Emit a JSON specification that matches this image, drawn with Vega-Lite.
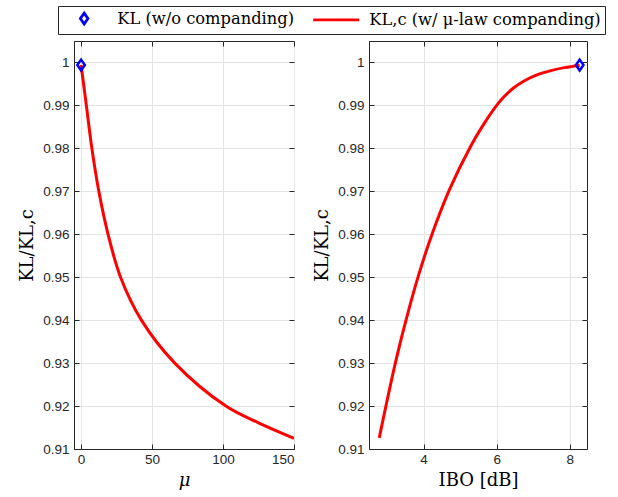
{
  "$schema": "https://vega.github.io/schema/vega-lite/v6.json",
  "padding": {"left": 18, "top": 5, "right": 5, "bottom": 2},
  "background": "white",
  "config": {
    "view": {"stroke": "#262626", "strokeWidth": 1},
    "axis": {
      "labelFont": "Liberation Sans", "labelFontSize": 13.5, "labelColor": "#262626",
      "tickColor": "#262626", "domainColor": "#262626", "gridColor": "#e3e3e3", "gridOpacity": 1,
      "titleFont": "DejaVu Serif", "titleFontSize": 18, "titleColor": "#000000", "titleFontWeight": "normal",
      "tickSize": -5, "labelPadding": 8
    },
    "legend": {
      "orient": "none", "legendX": -16, "legendY": -35, "direction": "horizontal",
      "fillColor": "white", "strokeColor": "#262626", "padding": 4,
      "labelFont": "DejaVu Serif", "labelFontSize": 16.3, "labelColor": "#000000", "labelLimit": 400,
      "symbolStrokeWidth": 2.8, "symbolSize": 70, "symbolOffset": 14, "labelOffset": 25, "columnPadding": 12,
      "title": null
    }
  },
  "datasets": {
    "left": [
      {"mu": 0, "k": 0.9994},
      {"mu": 3.7, "k": 0.990},
      {"mu": 7.6, "k": 0.980},
      {"mu": 12.5, "k": 0.970},
      {"mu": 19.0, "k": 0.960},
      {"mu": 27.8, "k": 0.950},
      {"mu": 42.5, "k": 0.940},
      {"mu": 66, "k": 0.930},
      {"mu": 102, "k": 0.920},
      {"mu": 125, "k": 0.9161},
      {"mu": 150, "k": 0.9125}
    ],
    "leftpt": [
      {"mu": 0, "k": 0.9994, "s": "KL (w/o companding)"},
      {"mu": null, "k": null, "s": "KL,c (w/ μ-law companding)"}
    ],
    "right": [
      {"ibo": 2.79, "k": 0.9126},
      {"ibo": 3.0, "k": 0.9211},
      {"ibo": 3.26, "k": 0.9311},
      {"ibo": 3.54, "k": 0.9406},
      {"ibo": 3.87, "k": 0.9506},
      {"ibo": 4.25, "k": 0.9604},
      {"ibo": 4.71, "k": 0.9704},
      {"ibo": 5.29, "k": 0.9805},
      {"ibo": 5.6, "k": 0.9850},
      {"ibo": 6.0, "k": 0.9900},
      {"ibo": 6.2, "k": 0.9920},
      {"ibo": 6.45, "k": 0.9940},
      {"ibo": 6.75, "k": 0.9957},
      {"ibo": 7.1, "k": 0.9971},
      {"ibo": 7.48, "k": 0.9981},
      {"ibo": 7.85, "k": 0.9988},
      {"ibo": 8.27, "k": 0.9993}
    ],
    "rightpt": [
      {"ibo": 8.27, "k": 0.9994, "s": "KL (w/o companding)"}
    ]
  },
  "spacing": 75,
  "bounds": "flush",
  "hconcat": [
    {
      "width": 220, "height": 408,
      "resolve": {"axis": {"x": "independent", "y": "independent"}},
      "layer": [
        {
          "data": {"name": "left"},
          "mark": {"type": "line", "color": "#ff0000", "strokeWidth": 3, "clip": true, "interpolate": "catmull-rom"},
          "encoding": {
            "x": {"field": "mu", "type": "quantitative", "scale": {"domain": [-5, 150], "nice": false, "zero": false},
                  "axis": {"title": "μ", "titleFontStyle": "italic", "values": [0, 50, 100, 150], "labelPadding": 8, "titlePadding": 6}},
            "y": {"field": "k", "type": "quantitative", "scale": {"domain": [0.91, 1.005], "nice": false, "zero": false},
                  "axis": {"title": "KL/KL,c", "values": [0.91, 0.92, 0.93, 0.94, 0.95, 0.96, 0.97, 0.98, 0.99, 1], "format": ".2~f", "labelPadding": 10, "titlePadding": 6}}
          }
        },
        {
          "data": {"name": "leftpt"},
          "mark": {"type": "point", "filled": false, "strokeWidth": 2.5, "size": 70, "opacity": 1},
          "encoding": {
            "x": {"field": "mu", "type": "quantitative", "axis": {"orient": "top", "labels": false, "title": null, "grid": false, "domain": false, "values": [0, 50, 100, 150]}},
            "y": {"field": "k", "type": "quantitative", "axis": {"orient": "right", "labels": false, "title": null, "grid": false, "domain": false, "values": [0.91, 0.92, 0.93, 0.94, 0.95, 0.96, 0.97, 0.98, 0.99, 1]}},
            "color": {"field": "s", "type": "nominal",
                      "scale": {"domain": ["KL (w/o companding)", "KL,c (w/ μ-law companding)"], "range": ["#0000ff", "#ff0000"]}},
            "shape": {"field": "s", "type": "nominal",
                      "scale": {"domain": ["KL (w/o companding)", "KL,c (w/ μ-law companding)"], "range": ["M0,-1.3L0.9,0L0,1.3L-0.9,0Z", "M-5.5,0L5.5,0"]}}
          }
        }
      ]
    },
    {
      "width": 218, "height": 408,
      "resolve": {"axis": {"x": "independent", "y": "independent"}},
      "layer": [
        {
          "data": {"name": "right"},
          "mark": {"type": "line", "color": "#ff0000", "strokeWidth": 3, "clip": true, "interpolate": "catmull-rom"},
          "encoding": {
            "x": {"field": "ibo", "type": "quantitative", "scale": {"domain": [2.51, 8.47], "nice": false, "zero": false},
                  "axis": {"title": "IBO [dB]", "values": [4, 6, 8], "labelPadding": 8, "titlePadding": 6}},
            "y": {"field": "k", "type": "quantitative", "scale": {"domain": [0.91, 1.005], "nice": false, "zero": false},
                  "axis": {"title": "KL/KL,c", "values": [0.91, 0.92, 0.93, 0.94, 0.95, 0.96, 0.97, 0.98, 0.99, 1], "format": ".2~f", "labelPadding": 10, "titlePadding": 6}}
          }
        },
        {
          "data": {"name": "rightpt"},
          "mark": {"type": "point", "filled": false, "strokeWidth": 2.5, "size": 70, "opacity": 1},
          "encoding": {
            "x": {"field": "ibo", "type": "quantitative", "axis": {"orient": "top", "labels": false, "title": null, "grid": false, "domain": false, "values": [4, 6, 8]}},
            "y": {"field": "k", "type": "quantitative", "axis": {"orient": "right", "labels": false, "title": null, "grid": false, "domain": false, "values": [0.91, 0.92, 0.93, 0.94, 0.95, 0.96, 0.97, 0.98, 0.99, 1]}},
            "color": {"field": "s", "type": "nominal"},
            "shape": {"field": "s", "type": "nominal"}
          }
        }
      ]
    }
  ]
}
